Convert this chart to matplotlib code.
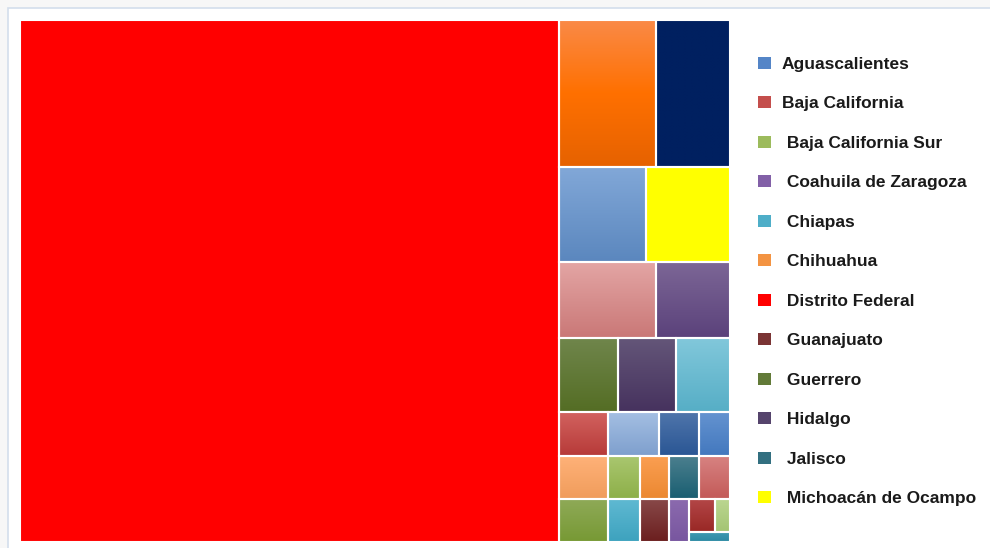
import numpy as np
import matplotlib.pyplot as plt
from matplotlib.colors import to_rgb
from matplotlib.patches import Rectangle

W, H = 990, 548

# treemap items, in layout order
states = ['Distrito Federal', 'México', 'Nuevo León', 'Veracruz', 'Michoacán de Ocampo',
          'Puebla', 'Sonora', 'Guerrero', 'Hidalgo', 'Tamaulipas',
          'Baja California', 'Oaxaca', 'Sinaloa', 'Yucatán', 'Querétaro',
          'Aguascalientes', 'Baja California Sur', 'Chiapas', 'Chihuahua', 'Guanajuato',
          'Jalisco', 'San Luis Potosí', 'Coahuila de Zaragoza', 'Morelos', 'Nayarit',
          'Zacatecas']
values = [281800, 14330, 10910, 8290, 7990,
          7390, 5620, 4380, 4290, 4000,
          2165, 2116, 2116, 2244, 1760,
          1364, 1382, 1370, 1253, 1241,
          1290, 1333, 860, 858, 495,
          410]
# how many items go in each strip
strips = [1, 2, 2, 2, 3, 3, 3, 2, 2, 2, 1, 2, 1]

# gradient stops (top -> bottom) for each item
shades = [('#FF0000', '#FF0000'), ('#FA8A48', '#FF7000', '#E66200'), ('#002060', '#002060'),
          ('#82A8D8', '#5B87BE'), ('#FFFF00', '#FFFF00'),
          ('#E3A5A4', '#CA7877'), ('#7C6696', '#5B427B'), ('#70864C', '#546D24'),
          ('#645679', '#46325E'), ('#82C8DB', '#56AEC6'),
          ('#D2625F', '#B73A38'), ('#FFB279', '#F09C5B'), ('#8FAA58', '#779934'),
          ('#A4BFE3', '#7E9FCD'), ('#4F75AB', '#2A5694'),
          ('#6493D0', '#4378BE'), ('#AAC770', '#8DAF48'), ('#5FB9D2', '#3DA2BE'),
          ('#FB9F52', '#EB8831'), ('#884949', '#6B1E1E'),
          ('#4B7F8E', '#195E71'), ('#D78281', '#C35A58'), ('#8B6AAE', '#78569F'),
          ('#B34747', '#992725'), ('#BBD690', '#A4C473'), ('#3D99B2', '#2D89A3')]

legend_labels = ['Aguascalientes', 'Baja California', ' Baja California Sur',
                 ' Coahuila de Zaragoza', ' Chiapas', ' Chihuahua', ' Distrito Federal',
                 ' Guanajuato', ' Guerrero', ' Hidalgo', ' Jalisco', ' Michoacán de Ocampo']


def strip_treemap(vals, sizes, x, y, w, h):
    # lay groups of items as strips along the shorter side of what is left
    rects = []
    total = float(sum(vals))
    i = 0
    for n in sizes:
        group = vals[i:i + n]
        s = float(sum(group))
        if w >= h:
            cw = w * s / total
            yy = y
            for v in group:
                hh = h * v / s
                rects.append((x, yy, cw, hh))
                yy += hh
            x += cw
            w -= cw
        else:
            rh = h * s / total
            xx = x
            for v in group:
                ww = w * v / s
                rects.append((xx, y, ww, rh))
                xx += ww
            y += rh
            h -= rh
        total -= s
        i += n
    return rects


def gradient(stops, n=64):
    rgb = np.array([to_rgb(c) for c in stops])
    pos = np.linspace(0, 1, len(stops))
    t = np.linspace(0, 1, n)
    img = np.stack([np.interp(t, pos, rgb[:, k]) for k in range(3)], axis=1)
    return img[:, None, :]


fig = plt.figure(figsize=(W / 100, H / 100), dpi=100)
fig.patch.set_facecolor('#F7F7F7')
fig.add_artist(Rectangle((7.5 / W, -0.02), 1.0, 1 - 7.5 / H + 0.02, transform=fig.transFigure,
                         facecolor='white', edgecolor='#D3DEEC', lw=1.2, zorder=0))

tw, th = 710.5, 522.5
ax = fig.add_axes([19.5 / W, 1 - (19.5 + th) / H, tw / W, th / H])
ax.set_axis_off()

rects = strip_treemap(values, strips, 0, 0, tw, th)
for (x, y, w, h), stops in zip(rects, shades):
    ax.imshow(gradient(stops), extent=(x, x + w, y + h, y), aspect='auto',
              interpolation='bilinear', zorder=1)
    ax.add_patch(Rectangle((x, y), w, h, facecolor='none', edgecolor='white', lw=1.5,
                           zorder=2, clip_on=False))
ax.set_xlim(0, tw)
ax.set_ylim(th, 0)

# legend (only the first entries fit in the panel)
for i, label in enumerate(legend_labels):
    cy = 63 + i * 39.45
    stops = shades[states.index(label.strip())]
    chip = np.mean([to_rgb(c) for c in stops], axis=0)
    fig.add_artist(Rectangle((758 / W, 1 - (cy + 6) / H), 13 / W, 12 / H,
                             transform=fig.transFigure, facecolor=chip, edgecolor='none'))
    fig.text(782 / W, 1 - (cy + 6) / H, label, fontsize=12.5, family='Liberation Sans',
             weight='bold', color='#1A1A1A', va='baseline', ha='left')

fig.savefig('out.png', dpi=100, facecolor=fig.get_facecolor())
